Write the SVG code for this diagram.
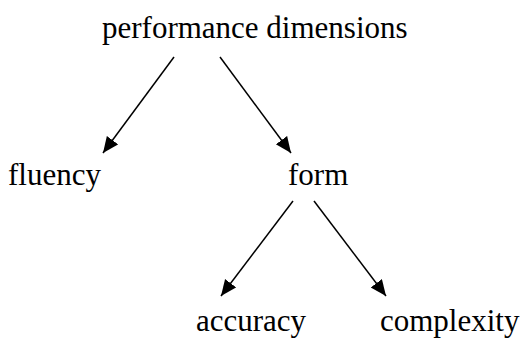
<svg xmlns="http://www.w3.org/2000/svg" width="532" height="338" viewBox="0 0 532 338">
<style>
text{font-family:"Liberation Serif","Times New Roman",serif;font-size:31px;fill:#000}
.c line{stroke:#000;stroke-width:1.5}
</style>
<defs>
<marker id="ah" markerUnits="userSpaceOnUse" markerWidth="20" markerHeight="16" refX="16" refY="7" orient="auto">
<path d="M0,0 L16,7 L0,14 Z" fill="#000"/>
</marker>
</defs>
<rect width="532" height="338" fill="#fff"/>
<g id="n-performance"><text x="102" y="38">performance dimensions</text></g>
<g id="n-fluency"><text x="8" y="185">fluency</text></g>
<g id="n-form"><text x="288" y="185">form</text></g>
<g id="n-accuracy"><text x="196" y="331">accuracy</text></g>
<g id="n-complexity"><text x="380" y="331">complexity</text></g>
<g class="c" id="connectors">
<line x1="174" y1="57" x2="103" y2="153" marker-end="url(#ah)"/>
<line x1="220" y1="57" x2="291" y2="153" marker-end="url(#ah)"/>
<line x1="293" y1="201" x2="221" y2="296" marker-end="url(#ah)"/>
<line x1="314" y1="201" x2="386" y2="296" marker-end="url(#ah)"/>
</g>
</svg>
